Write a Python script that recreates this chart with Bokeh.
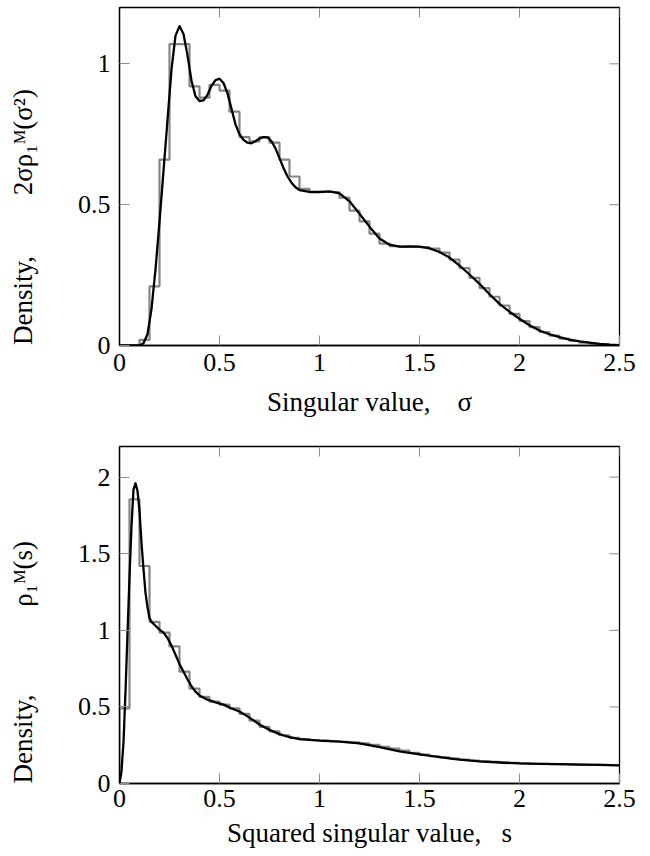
import math
from bokeh.plotting import figure
from bokeh.models import Range1d, FixedTicker
from bokeh.layouts import column
from bokeh.embed import file_html
from bokeh.resources import INLINE

# ---------------- data ----------------
bin_width = 0.05

# top panel: histogram of singular values (bin left edges 0, 0.05, ..., 2.45)
hist1_values = [0, 0, 0.02, 0.21, 0.66, 1.07, 1.07, 0.92, 0.88, 0.925,
                0.905, 0.83, 0.74, 0.725, 0.74, 0.72, 0.66, 0.60, 0.556, 0.545,
                0.545, 0.545, 0.525, 0.479, 0.441, 0.397, 0.362, 0.353, 0.350, 0.350,
                0.349, 0.344, 0.330, 0.305, 0.275, 0.240, 0.204, 0.173, 0.142, 0.112,
                0.087, 0.065, 0.048, 0.035, 0.024, 0.016, 0.010, 0.006, 0.003, 0.001]

curve1_x = [0, 0.05, 0.1, 0.12, 0.14, 0.16, 0.18, 0.2, 0.22, 0.24, 0.26, 0.28, 0.3,
            0.32, 0.34, 0.36, 0.38, 0.4, 0.42, 0.44, 0.46, 0.48, 0.5, 0.52, 0.54,
            0.56, 0.58, 0.6, 0.62, 0.64, 0.66, 0.68, 0.7, 0.72, 0.74, 0.76, 0.78,
            0.8, 0.82, 0.84, 0.86, 0.88, 0.9, 0.95, 1.0, 1.05, 1.1, 1.15, 1.2,
            1.25, 1.3, 1.35, 1.4, 1.45, 1.5, 1.55, 1.6, 1.65, 1.7, 1.75, 1.8,
            1.85, 1.9, 1.95, 2.0, 2.05, 2.1, 2.15, 2.2, 2.25, 2.3, 2.35, 2.4,
            2.45, 2.5]
curve1_y = [0, 0, 0, 0.008, 0.04, 0.13, 0.27, 0.44, 0.62, 0.80, 0.98, 1.10, 1.134,
            1.106, 1.03, 0.94, 0.885, 0.868, 0.87, 0.89, 0.922, 0.942, 0.947, 0.932, 0.895,
            0.84, 0.785, 0.75, 0.73, 0.72, 0.718, 0.725, 0.735, 0.74, 0.739, 0.725, 0.70,
            0.665, 0.63, 0.60, 0.578, 0.562, 0.552, 0.545, 0.545, 0.547, 0.54, 0.512, 0.468,
            0.422, 0.38, 0.358, 0.351, 0.352, 0.351, 0.345, 0.332, 0.312, 0.284, 0.252, 0.219,
            0.182, 0.148, 0.12, 0.095, 0.072, 0.053, 0.04, 0.03, 0.021, 0.015, 0.01, 0.006,
            0.003, 0.001]

# bottom panel: histogram of squared singular values
hist2_values = [0.49, 1.855, 1.42, 1.055, 0.985, 0.895, 0.73, 0.62, 0.565, 0.535,
                0.515, 0.49, 0.455, 0.41, 0.37, 0.34, 0.315, 0.298, 0.29, 0.284,
                0.28, 0.276, 0.272, 0.268, 0.262, 0.252, 0.24, 0.228, 0.214, 0.2,
                0.188, 0.178, 0.17, 0.163, 0.156, 0.15, 0.145, 0.141, 0.137, 0.134,
                0.131, 0.129, 0.128, 0.127, 0.126, 0.125, 0.123, 0.122, 0.121, 0.119]

curve2_x = [0, 0.01, 0.02, 0.03, 0.04, 0.05, 0.06, 0.07, 0.08, 0.09, 0.1, 0.11,
            0.12, 0.13, 0.14, 0.15, 0.16, 0.18, 0.2, 0.22, 0.24, 0.26, 0.28, 0.3,
            0.32, 0.34, 0.36, 0.38, 0.4, 0.44, 0.48, 0.52, 0.56, 0.6, 0.65, 0.7,
            0.75, 0.8, 0.85, 0.9, 1.0, 1.1, 1.2, 1.3, 1.4, 1.5, 1.6, 1.7, 1.8,
            1.9, 2.0, 2.1, 2.2, 2.3, 2.4, 2.5]
curve2_y = [0, 0.08, 0.27, 0.6, 0.98, 1.35, 1.68, 1.92, 1.96, 1.91, 1.78, 1.57,
            1.40, 1.245, 1.15, 1.08, 1.055, 1.03, 1.005, 0.985, 0.95, 0.90, 0.84, 0.78,
            0.73, 0.68, 0.635, 0.60, 0.575, 0.547, 0.53, 0.515, 0.49, 0.47, 0.43, 0.385,
            0.35, 0.322, 0.302, 0.29, 0.28, 0.273, 0.262, 0.238, 0.21, 0.19, 0.172, 0.156, 0.145,
            0.137, 0.131, 0.128, 0.126, 0.123, 0.121, 0.118]

x_max = 2.5
y1_max = 1.2
y2_max = 2.2
x_ticks = [0, 0.5, 1, 1.5, 2, 2.5]
x_tick_labels = ["0", "0.5", "1", "1.5", "2", "2.5"]
y1_ticks = [0, 0.5, 1]
y1_tick_labels = ["0", "0.5", "1"]
y2_ticks = [0, 0.5, 1, 1.5, 2]
y2_tick_labels = ["0", "0.5", "1", "1.5", "2"]

NB = "\u00a0"
xlabel1 = "Singular value," + NB * 4 + "σ"
ylabel1 = "Density," + NB * 9 + "2σρ₁ᴹ(σ²)" + NB * 12
xlabel2 = "Squared singular value," + NB * 3 + "s"
ylabel2 = "Density," + NB * 13 + "ρ₁ᴹ(s)" + NB * 14

FONT = "Liberation Serif"
TICK_FS = "26px"
LABEL_FS = "27px"
HIST_COLOR = "#858585"
TICK_COLOR = "#8c8c8c"
TICK_LEN = 10


def style_axis(ax, ticks, labels):
    ax.ticker = FixedTicker(ticks=ticks)
    ax.major_label_overrides = {t: l for t, l in zip(ticks, labels)}
    ax.major_tick_in = TICK_LEN
    ax.major_tick_out = 0
    ax.major_tick_line_color = TICK_COLOR
    ax.major_tick_line_width = 1
    ax.minor_tick_line_color = None
    ax.axis_line_color = "black"
    ax.axis_line_width = 1.3
    ax.major_label_text_font = FONT
    ax.major_label_text_font_size = TICK_FS
    ax.major_label_text_color = "black"
    ax.axis_label_text_font = FONT
    ax.axis_label_text_font_size = LABEL_FS
    ax.axis_label_text_font_style = "normal"
    ax.axis_label_text_color = "black"


def make_panel(hist_values, cx, cy, y_max, y_ticks, y_labels, xlabel, ylabel,
               height, b_top, b_bottom, x_major_standoff, x_label_standoff):
    p = figure(width=650, height=height,
               x_range=Range1d(0, x_max), y_range=Range1d(0, y_max),
               output_backend="svg", toolbar_location=None,
               min_border_left=119, min_border_right=31,
               min_border_top=b_top, min_border_bottom=b_bottom)
    p.xgrid.visible = False
    p.ygrid.visible = False
    p.outline_line_color = "black"
    p.outline_line_width = 1.3
    p.background_fill_color = "white"
    p.border_fill_color = "white"

    # mirrored inward ticks on the top and right edges
    p.ray(x=x_ticks, y=[y_max] * len(x_ticks), length=TICK_LEN, length_units="screen",
          angle=-math.pi / 2, line_color=TICK_COLOR, line_width=1)
    p.ray(x=[x_max] * len(y_ticks), y=y_ticks, length=TICK_LEN, length_units="screen",
          angle=math.pi, line_color=TICK_COLOR, line_width=1)

    edges = [round(i * bin_width, 4) for i in range(len(hist_values) + 1)]
    step_x = [0] + edges
    step_y = [0] + list(hist_values) + [hist_values[-1]]
    p.step(step_x, step_y, mode="after", line_color=HIST_COLOR, line_width=2.2)
    p.line(cx, cy, line_color="black", line_width=2.3, line_join="round")

    style_axis(p.xaxis[0], x_ticks, x_tick_labels)
    style_axis(p.yaxis[0], y_ticks, y_labels)
    p.xaxis[0].axis_label = xlabel
    p.yaxis[0].axis_label = ylabel
    p.xaxis[0].major_label_standoff = x_major_standoff
    p.xaxis[0].axis_label_standoff = x_label_standoff
    p.yaxis[0].major_label_standoff = 9
    p.yaxis[0].axis_label_standoff = 37
    return p


p1 = make_panel(hist1_values, curve1_x, curve1_y, y1_max, y1_ticks, y1_tick_labels,
                xlabel1, ylabel1, height=425, b_top=7, b_bottom=80,
                x_major_standoff=8, x_label_standoff=13)
p2 = make_panel(hist2_values, curve2_x, curve2_y, y2_max, y2_ticks, y2_tick_labels,
                xlabel2, ylabel2, height=431, b_top=21, b_bottom=73,
                x_major_standoff=6, x_label_standoff=8)

layout = column(p1, p2, spacing=0)
open("out.html", "w").write(file_html(layout, INLINE))
